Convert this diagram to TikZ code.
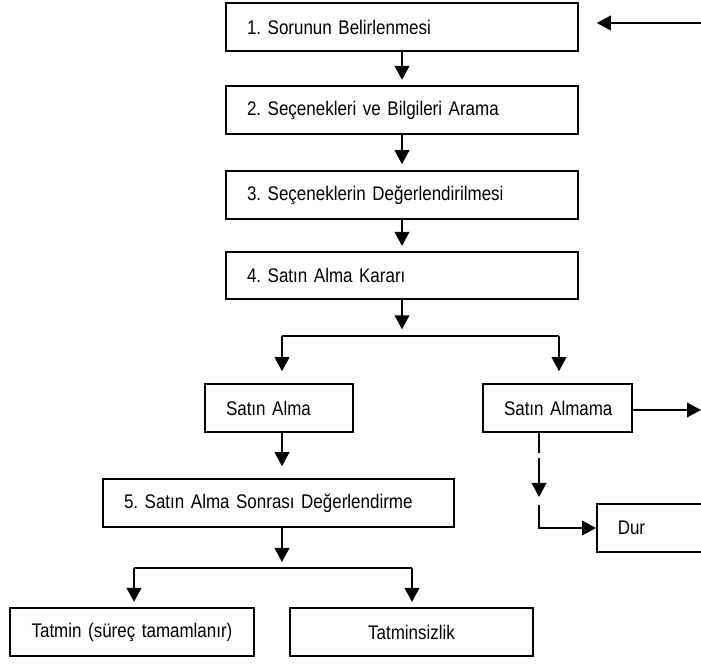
\documentclass[tikz,border=0pt]{standalone}
\usepackage{fontspec}
\setmainfont{Liberation Sans}
\newfontfamily\boxfont[FakeStretch=0.86,WordSpace=0.75]{Liberation Sans}
\usetikzlibrary{arrows.meta}
\frenchspacing
\begin{document}
\begin{tikzpicture}[x=0.75pt,y=-0.75pt,
  bx/.style={draw, line width=1.2pt, rectangle, inner ysep=0pt, inner xsep=15.75pt,
    font=\boxfont\fontsize{14.8}{16}\selectfont},
  lbx/.style={bx, align=left},
  cbx/.style={bx, align=center},
  conn/.style={line width=1.2pt},
  arr/.style={conn, -{Triangle[length=10.5pt,width=11pt]}}]
\useasboundingbox (0,0) rectangle (701,666);
\clip (0,0) rectangle (701,666);
% main column
\node[lbx, minimum width=264pt, text width=232.5pt, minimum height=36pt] (b1) at (402,27) {1. Sorunun Belirlenmesi};
\node[lbx, minimum width=264pt, text width=232.5pt, minimum height=36pt] (b2) at (402,110) {2. Seçenekleri ve Bilgileri Arama};
\node[lbx, minimum width=264pt, text width=232.5pt, minimum height=36pt] (b3) at (402,195) {3. Seçeneklerin Değerlendirilmesi};
\node[lbx, minimum width=264pt, text width=232.5pt, minimum height=35.25pt] (b4) at (402,275.5) {4. Satın Alma Kararı};
% branches
\node[lbx, minimum width=111pt, text width=79.5pt, minimum height=36pt] (sa) at (279,408) {Satın Alma};
\node[lbx, minimum width=111.75pt, text width=80.25pt, minimum height=36pt] (sam) at (557.5,408) {\mbox{Satın Almama}};
\node[lbx, minimum width=111.75pt, text width=80.25pt, minimum height=36pt, anchor=west] (dur) at (596,528) {Dur};
\node[lbx, minimum width=263.25pt, text width=231.75pt, minimum height=36pt] (b5) at (278.5,503) {5. Satın Alma Sonrası Değerlendirme};
\node[cbx, minimum width=183pt, text width=151.5pt, minimum height=36pt] (t1) at (132,632) {Tatmin (süreç tamamlanır)};
\node[cbx, minimum width=182.25pt, text width=150.75pt, minimum height=36pt] (t2) at (411.5,632) {Tatminsizlik};
% coordinates
\coordinate (feedin) at (701,23);
\coordinate (out) at (701,410);
\coordinate (split) at (402,336);
\coordinate (jl) at (282,336);
\coordinate (jr) at (559,336);
\coordinate (k) at (282,568);
\coordinate (kl) at (134,568);
\coordinate (kr) at (412,568);
\coordinate (d1) at (539,497);
\coordinate (d2) at (539,505);
% connectors
\draw[arr, shorten >=13.5pt] (feedin) -- (feedin -| b1.east);
\draw[arr, shorten >=4pt] (b1.south) -- (b2.north);
\draw[arr, shorten >=4.5pt] (b2.south) -- (b3.north);
\draw[arr, shorten >=4pt] (b3.south) -- (b4.north);
\draw[arr, shorten >=5pt] (b4.south) -- (split);
\draw[conn] (jl) -- (jr);
\draw[arr, shorten >=9pt] (jl) -- (jl |- sa.north);
\draw[arr, shorten >=9pt] (jr) -- (jr |- sam.north);
\draw[arr] (sam.east |- out) -- (out);
\draw[arr, dash pattern=on 15pt off 3.75pt on 24pt off 4pt] (sam.south -| d1) -- (d1);
\draw[arr] (d2) |- (dur.west);
\draw[arr, shorten >=9pt] (sa.south -| jl) -- (b5.north -| jl);
\draw[arr, shorten >=4.5pt] (b5.south -| k) -- (k);
\draw[conn] (kl) -- (kr);
\draw[arr, shorten >=4pt] (kl) -- (kl |- t1.north);
\draw[arr, shorten >=4pt] (kr) -- (kr |- t2.north);
\end{tikzpicture}
\end{document}
